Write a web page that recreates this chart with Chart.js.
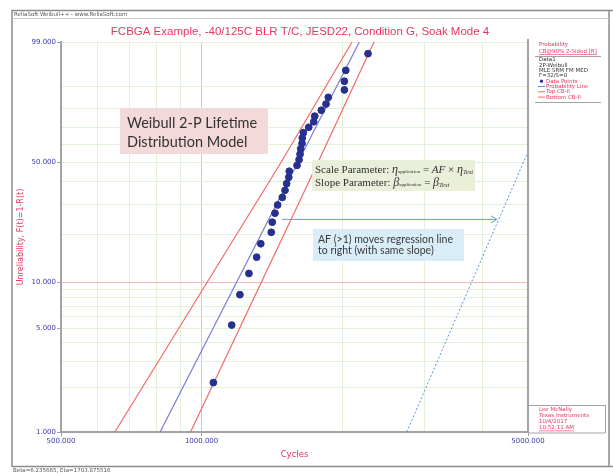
<!DOCTYPE html>
<html>
<head>
<meta charset="utf-8">
<script src="https://cdn.jsdelivr.net/npm/chart.js@4.4.1/dist/chart.umd.min.js"></script>
<style>
  html, body { margin: 0; padding: 0; background: #fff; }
  #wrap { width: 613px; height: 473px; }
</style>
</head>
<body>
<div id="wrap"><canvas id="c"></canvas></div>
<script>
// failure times (cycles) and median-rank unreliability (%)
const cycles = [1060, 1160, 1208, 1263, 1312, 1339, 1410, 1417, 1436, 1455, 1489, 1509, 1521, 1537, 1541, 1601,
                1617, 1625, 1630, 1641, 1643, 1652, 1696, 1738, 1747, 1805, 1847, 1868, 2022, 2022, 2036, 2272];
const unrel = [2.16, 5.25, 8.33, 11.42, 14.51, 17.59, 20.68, 23.77, 26.85, 29.94, 33.02, 36.11, 39.20, 42.28, 45.37, 48.46,
               51.54, 54.63, 57.72, 60.80, 63.89, 66.98, 70.06, 73.15, 76.23, 79.32, 82.41, 85.49, 88.58, 91.67, 94.75, 97.84];

// fitted line and 90% bounds
const probCycles = [815, 2177];
const probF = [1, 99];
const topCbCycles = [652, 1479, 2100];
const topCbF = [1, 50, 99];
const botCbCycles = [947, 1775, 2340];
const botCbF = [1, 50, 99];

// line shifted by AF, and the arrow
const shiftCycles = [2750, 5000];
const shiftF = [1, 56];
const arrowCycles = [1487, 4290];
const arrowF = [24.7, 24.7];

// axes
const xGrid = [500, 600, 700, 800, 900, 1000, 2000, 3000, 4000, 5000];
const xLabels = [500, 1000, 5000];
const yGrid = [1, 2, 3, 4, 5, 6, 7, 8, 9, 10, 20, 30, 40, 50, 60, 70, 80, 90, 99];
const yLabels = [1, 5, 10, 50, 99];

const RED = '#e8365e';
const TICK = '#3c3ca8';
const GRAY = '#a3a3a3';
const GREEN_GRID = '#e2f1d9';
const RED_GRID = '#f5baba';

const pts = (xs, ys) => xs.map((x, i) => ({ x: x, y: ys[i] }));

// Weibull probability axis: ln(-ln(1-F))
const wb = v => Math.log(-Math.log(1 - v / 100));
class WeibullScale extends Chart.Scale {
  determineDataLimits() { this.min = this.options.min; this.max = this.options.max; }
  buildTicks() { return yGrid.map(v => ({ value: v })); }
  getLabelForValue(v) { return String(v); }
  configure() { super.configure(); this._t0 = wb(this.min); this._t1 = wb(this.max); }
  getPixelForValue(v) { return this.getPixelForDecimal((wb(v) - this._t0) / (this._t1 - this._t0)); }
  getValueForPixel(p) {
    const t = this._t0 + this.getDecimalForPixel(p) * (this._t1 - this._t0);
    return (1 - Math.exp(-Math.exp(t))) * 100;
  }
}
WeibullScale.id = 'weibull';
WeibullScale.defaults = {};
Chart.register(WeibullScale);

function rich(ctx, x, y, parts) {
  parts.forEach(p => {
    ctx.font = p.f;
    ctx.fillText(p.t, x, y + (p.dy || 0));
    x += ctx.measureText(p.t).width;
  });
  return x;
}

const decor = {
  id: 'decor',
  beforeDraw(chart) {
    const ctx = chart.ctx;
    ctx.save();
    ctx.fillStyle = '#fff';
    ctx.fillRect(0, 0, chart.width, chart.height);
    ctx.restore();
  },
  afterDraw(chart) {
    const ctx = chart.ctx;
    const a = chart.chartArea;
    ctx.save();

    // window frame
    ctx.strokeStyle = '#8c8c8c';
    ctx.lineWidth = 1.5;
    ctx.beginPath();
    ctx.moveTo(12, 10.5); ctx.lineTo(613, 10.5);
    ctx.moveTo(12, 10); ctx.lineTo(12, 467);
    ctx.moveTo(12, 466.5); ctx.lineTo(613, 466.5);
    ctx.moveTo(609, 10); ctx.lineTo(609, 467);
    ctx.stroke();
    ctx.strokeStyle = '#c8c8c8';
    ctx.lineWidth = 1;
    ctx.beginPath();
    ctx.moveTo(12, 18.5); ctx.lineTo(609, 18.5);
    ctx.stroke();
    ctx.fillStyle = '#555';
    ctx.font = '5.5px "DejaVu Sans"';
    ctx.textBaseline = 'middle';
    ctx.fillText('ReliaSoft Weibull++ - www.ReliaSoft.com', 14, 14.5);
    ctx.fillText('Beta=6.235665, Eta=1703.875516', 13, 470.5);

    // title
    ctx.fillStyle = RED;
    ctx.font = '11.5px "Liberation Sans"';
    ctx.textAlign = 'center';
    ctx.fillText('FCBGA Example, -40/125C BLR T/C, JESD22, Condition G, Soak Mode 4', 300, 32);
    ctx.textAlign = 'left';

    // right border of plot and side panels
    ctx.strokeStyle = GRAY;
    ctx.lineWidth = 2;
    ctx.beginPath();
    ctx.moveTo(a.right, a.top - 3); ctx.lineTo(a.right, a.bottom + 1);
    ctx.stroke();
    ctx.lineWidth = 1;
    ctx.beginPath();
    ctx.moveTo(535, 56.5); ctx.lineTo(601, 56.5);
    ctx.moveTo(535, 102.5); ctx.lineTo(601, 102.5);
    ctx.moveTo(a.right, 405.5); ctx.lineTo(605, 405.5);
    ctx.moveTo(605.5, 405); ctx.lineTo(605.5, 433);
    ctx.moveTo(a.right, 433); ctx.lineTo(605, 433);
    ctx.stroke();

    ctx.font = '5.5px "DejaVu Sans"';
    ctx.fillStyle = RED;
    ctx.fillText('Probability', 539, 45);
    ctx.fillText('CB@90% 2-Sided [R]', 539, 51.5);
    let w = ctx.measureText('CB@90% 2-Sided [R]').width;
    ctx.fillRect(539, 54.3, w, 0.6);
    ctx.fillStyle = '#333';
    ['Data1', '2P-Weibull', 'MLE SRM FM MED', 'F=32/S=0'].forEach((t, i) => ctx.fillText(t, 539, 60 + i * 5.3));
    ctx.fillStyle = RED;
    const leg = [['Data Points', 'dot'], ['Probability Line', '#7b7bd9'], ['Top CB-II', '#f26a6a'], ['Bottom CB-II', '#f26a6a']];
    leg.forEach((l, i) => {
      const y = 81.2 + i * 5.3;
      if (l[1] === 'dot') {
        ctx.fillStyle = '#26308f';
        ctx.beginPath(); ctx.arc(541.5, y, 1.6, 0, Math.PI * 2); ctx.fill();
      } else {
        ctx.strokeStyle = l[1];
        ctx.beginPath(); ctx.moveTo(538, y); ctx.lineTo(545, y); ctx.stroke();
      }
      ctx.fillStyle = RED;
      ctx.fillText(l[0], 546, y);
    });

    ['Lee McNally', 'Texas Instruments', '10/4/2017', '10:52:11 AM'].forEach((t, i) => ctx.fillText(t, 539, 410 + i * 6));
    w = ctx.measureText('10:52:11 AM').width;
    ctx.fillRect(539, 430.6, w, 0.6);

    // annotation boxes
    ctx.fillStyle = '#f3d9d9';
    ctx.fillRect(120, 108, 148, 46);
    ctx.fillStyle = '#333';
    ctx.font = '14.5px Lato';
    ctx.fillText('Weibull 2-P Lifetime', 127, 123);
    ctx.fillText('Distribution Model', 127, 142);

    ctx.fillStyle = '#e9efd9';
    ctx.fillRect(312, 160, 163, 31);
    ctx.fillStyle = '#333';
    const serif = '"Liberation Serif"';
    rich(ctx, 315, 170, [
      { t: 'Scale Parameter: ', f: '11px ' + serif },
      { t: 'η', f: 'italic 12px ' + serif },
      { t: 'application', f: '5px ' + serif, dy: 2 },
      { t: ' = ', f: '11px ' + serif },
      { t: 'AF', f: 'italic 11px ' + serif },
      { t: ' × ', f: '11px ' + serif },
      { t: 'η', f: 'italic 12px ' + serif },
      { t: 'Test', f: 'italic 6.5px ' + serif, dy: 2 }
    ]);
    rich(ctx, 315, 183, [
      { t: 'Slope Parameter: ', f: '11px ' + serif },
      { t: 'β', f: 'italic 12px ' + serif },
      { t: 'application', f: '5px ' + serif, dy: 2 },
      { t: ' = ', f: '11px ' + serif },
      { t: 'β', f: 'italic 12px ' + serif },
      { t: 'Test', f: 'italic 6.5px ' + serif, dy: 2 }
    ]);

    ctx.fillStyle = '#d8edf7';
    ctx.fillRect(313, 229, 151, 32);
    ctx.fillStyle = '#3a3a3a';
    ctx.font = '10.5px Lato';
    ctx.fillText('AF (>1) moves regression line', 318, 240);
    ctx.fillText('to right (with same slope)', 318, 251);

    // arrow head at the end of the AF arrow
    const m = chart.getDatasetMeta(5).data;
    const tip = m[m.length - 1];
    ctx.strokeStyle = '#6c9bdc';
    ctx.lineWidth = 1;
    ctx.beginPath();
    ctx.moveTo(tip.x - 6, tip.y - 3.5); ctx.lineTo(tip.x, tip.y); ctx.lineTo(tip.x - 6, tip.y + 3.5);
    ctx.stroke();

    ctx.restore();
  }
};

const tickFont = { family: 'DejaVu Sans', size: 7 };

new Chart(document.getElementById('c'), {
  type: 'scatter',
  data: {
    datasets: [
      { label: 'Data Points', data: pts(cycles, unrel), backgroundColor: '#26308f', borderColor: '#26308f',
        pointRadius: 3.4, showLine: false },
      { label: 'Probability Line', data: pts(probCycles, probF), showLine: true, borderColor: '#7b7bd9',
        borderWidth: 1.2, pointRadius: 0 },
      { label: 'Top CB-II', data: pts(topCbCycles, topCbF), showLine: true, borderColor: '#f26a6a',
        borderWidth: 1.2, pointRadius: 0 },
      { label: 'Bottom CB-II', data: pts(botCbCycles, botCbF), showLine: true, borderColor: '#f26a6a',
        borderWidth: 1.2, pointRadius: 0 },
      { label: 'Shifted', data: pts(shiftCycles, shiftF), showLine: true, borderColor: '#5c90d8',
        borderWidth: 1, borderDash: [2, 2], pointRadius: 0 },
      { label: 'AF arrow', data: pts(arrowCycles, arrowF), showLine: true, borderColor: '#6c9bdc',
        borderWidth: 1, pointRadius: 0 }
    ]
  },
  options: {
    responsive: true,
    maintainAspectRatio: false,
    animation: false,
    layout: { padding: { left: 0, right: 85, top: 42, bottom: 0 } },
    plugins: { legend: { display: false }, tooltip: { enabled: false } },
    scales: {
      x: {
        type: 'logarithmic', min: 500, max: 5000,
        afterBuildTicks: s => { s.ticks = xGrid.map(v => ({ value: v })); },
        afterFit: s => { s.height = 41; },
        ticks: { autoSkip: false, maxRotation: 0, padding: 1, color: TICK, font: tickFont,
                 callback: v => xLabels.includes(v) ? v.toFixed(3) : '' },
        grid: { color: c => (c.tick && c.tick.value === 1000) ? RED_GRID : GREEN_GRID, tickLength: 4,
                tickColor: c => (c.tick && xLabels.includes(c.tick.value)) ? GRAY : 'rgba(0,0,0,0)' },
        border: { color: GRAY, width: 2 },
        title: { display: true, text: 'Cycles', color: RED, font: { family: 'DejaVu Sans', size: 8.5 },
                 padding: { top: 0, bottom: 13 } }
      },
      y: {
        type: 'weibull', min: 1, max: 99,
        afterFit: s => { s.width = 61; },
        ticks: { autoSkip: false, padding: 1, color: TICK, font: tickFont,
                 callback: v => yLabels.includes(v) ? v.toFixed(3) : '' },
        grid: { color: c => (c.tick && c.tick.value === 10) ? RED_GRID : GREEN_GRID, tickLength: 4,
                tickColor: c => (c.tick && yLabels.includes(c.tick.value)) ? GRAY : 'rgba(0,0,0,0)' },
        border: { color: GRAY, width: 2 },
        title: { display: true, text: 'Unreliability, F(t)=1-R(t)', color: RED,
                 font: { family: 'DejaVu Sans', size: 8 }, padding: { top: 16, bottom: 0 } }
      }
    }
  },
  plugins: [decor]
});
</script>
</body>
</html>
